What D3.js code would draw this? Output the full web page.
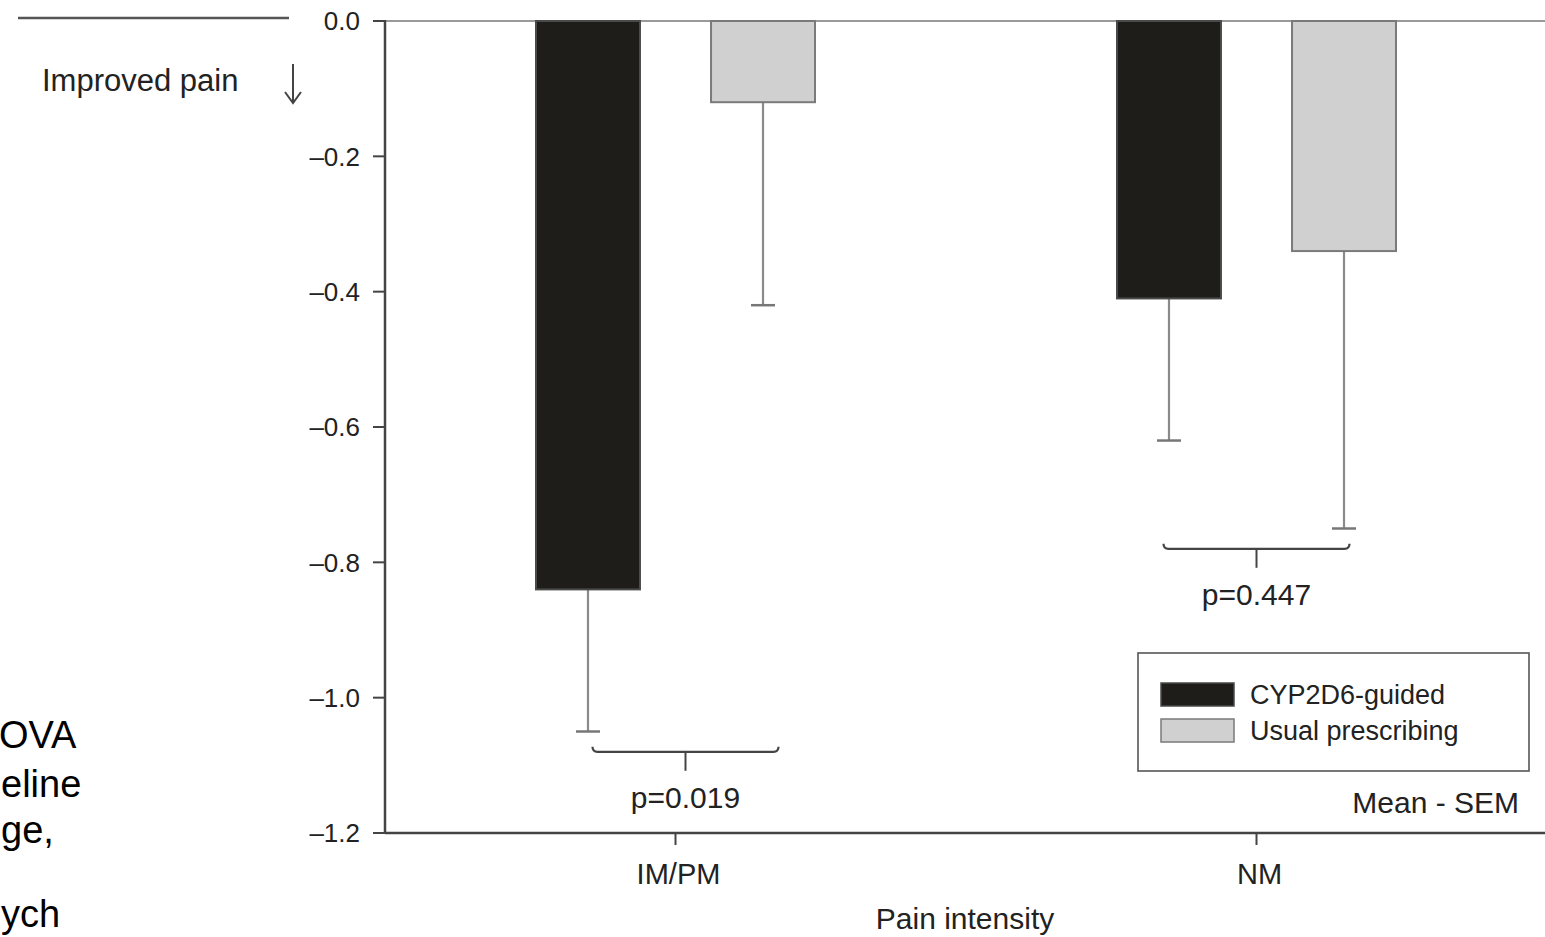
<!DOCTYPE html>
<html>
<head>
<meta charset="utf-8">
<script src="https://cdn.jsdelivr.net/npm/d3@7"></script>
<style>
  html, body { margin: 0; padding: 0; background: #fff; overflow: hidden; }
  svg { display: block; font-family: "Liberation Sans", Arial, Helvetica, sans-serif; }
</style>
</head>
<body>
<svg id="chart" width="1545" height="937"></svg>
<script>
// ---- data ----
const categories = ["IM/PM", "NM"];
const seriesNames = ["CYP2D6-guided", "Usual prescribing"];
const guidedMean = [-0.84, -0.41];
const guidedSem = [0.21, 0.21];
const usualMean = [-0.12, -0.34];
const usualSem = [0.30, 0.41];
const pLabels = ["p=0.019", "p=0.447"];
const yTicks = [0.0, -0.2, -0.4, -0.6, -0.8, -1.0, -1.2];
const sideText = ["OVA", "eline", "ge,", "", "ych"];

const svg = d3.select("#chart");
const fontTick = 26, fontText = 30, fontLegend = 27;

const plotL = 385, plotR = 1547, plotT = 21, plotB = 833;
const x = d3.scaleBand().domain(categories).range([plotL, plotR]).paddingInner(0).paddingOuter(0);
const y = d3.scaleLinear().domain([0, -1.2]).range([plotT, plotB]);
const sub = d3.scaleBand().domain(seriesNames).range([-139.5, 139.5]).paddingInner(0.406).paddingOuter(0);

const fills = ["#1e1d1a", "#d0d0d0"];
const strokes = ["#4a4a4a", "#7a7a7a"];

// top frame line
svg.append("line").attr("x1", plotL).attr("x2", 1545).attr("y1", y(0)).attr("y2", y(0))
  .attr("stroke", "#9a9a9a").attr("stroke-width", 2);

// bars
const rows = [];
categories.forEach((c, i) => {
  rows.push({ cat: c, s: seriesNames[0], mean: guidedMean[i], sem: guidedSem[i], k: 0 });
  rows.push({ cat: c, s: seriesNames[1], mean: usualMean[i], sem: usualSem[i], k: 1 });
});
const cx = d => x(d.cat) + x.bandwidth() / 2 + sub(d.s) + sub.bandwidth() / 2;

// error bars (Mean - SEM)
rows.forEach(d => {
  const ex = cx(d);
  svg.append("line").attr("x1", ex).attr("x2", ex).attr("y1", y(d.mean)).attr("y2", y(d.mean - d.sem))
    .attr("stroke", "#8a8a8a").attr("stroke-width", 2.2);
  svg.append("line").attr("x1", ex - 12).attr("x2", ex + 12).attr("y1", y(d.mean - d.sem)).attr("y2", y(d.mean - d.sem))
    .attr("stroke", "#777").attr("stroke-width", 2.5);
});

svg.selectAll("rect.bar").data(rows).join("rect").attr("class", "bar")
  .attr("x", d => x(d.cat) + x.bandwidth() / 2 + sub(d.s))
  .attr("width", sub.bandwidth())
  .attr("y", y(0))
  .attr("height", d => y(d.mean) - y(0))
  .attr("fill", d => fills[d.k])
  .attr("stroke", d => strokes[d.k])
  .attr("stroke-width", 2);

// brackets and p labels
categories.forEach((c, i) => {
  const lows = [guidedMean[i] - guidedSem[i], usualMean[i] - usualSem[i]];
  const level = d3.min(lows) - 0.03;
  const mid = x(c) + x.bandwidth() / 2 + (i === 0 ? 10 : 0);
  const x0 = mid - 93, x1 = mid + 93, yy = y(level);
  svg.append("path")
    .attr("d", `M${x0},${yy - 5} Q${x0},${yy} ${x0 + 5},${yy} L${x1 - 5},${yy} Q${x1},${yy} ${x1},${yy - 5}`)
    .attr("fill", "none").attr("stroke", "#444").attr("stroke-width", 2.2);
  svg.append("line").attr("x1", mid).attr("x2", mid).attr("y1", yy).attr("y2", yy + 19)
    .attr("stroke", "#444").attr("stroke-width", 2);
  svg.append("text").attr("x", mid).attr("y", yy + 56).attr("text-anchor", "middle")
    .attr("font-size", fontText).attr("fill", "#222").text(pLabels[i]);
});

// y axis
const yAxis = svg.append("g");
yAxis.append("line").attr("x1", plotL).attr("x2", plotL).attr("y1", y(0) - 1).attr("y2", y(-1.2) + 1)
  .attr("stroke", "#444").attr("stroke-width", 2.5);
yAxis.selectAll("line.tk").data(yTicks).join("line").attr("class", "tk")
  .attr("x1", plotL - 12).attr("x2", plotL).attr("y1", d => y(d)).attr("y2", d => y(d))
  .attr("stroke", "#444").attr("stroke-width", 2);
yAxis.selectAll("text").data(yTicks).join("text")
  .attr("x", plotL - 25).attr("y", d => y(d)).attr("dy", "0.36em")
  .attr("text-anchor", "end").attr("font-size", fontTick).attr("fill", "#222")
  .text(d => d3.format(".1f")(d).replace("\u2212", "\u2013"));

// x axis
svg.append("line").attr("x1", plotL).attr("x2", 1545).attr("y1", y(-1.2)).attr("y2", y(-1.2))
  .attr("stroke", "#444").attr("stroke-width", 2.5);
categories.forEach(c => {
  const m = x(c) + x.bandwidth() / 2;
  svg.append("line").attr("x1", m).attr("x2", m).attr("y1", y(-1.2)).attr("y2", y(-1.2) + 12)
    .attr("stroke", "#444").attr("stroke-width", 2);
  svg.append("text").attr("x", m + 3).attr("y", 884).attr("text-anchor", "middle")
    .attr("font-size", fontText - 1).attr("fill", "#222").text(c);
});
svg.append("text").attr("x", 965).attr("y", 929).attr("text-anchor", "middle")
  .attr("font-size", fontText).attr("fill", "#222").text("Pain intensity");

// legend
const lg = svg.append("g");
lg.append("rect").attr("x", 1138).attr("y", 653).attr("width", 391).attr("height", 118)
  .attr("fill", "#fff").attr("stroke", "#555").attr("stroke-width", 1.6);
seriesNames.forEach((s, i) => {
  const yy = 683 + i * 36;
  lg.append("rect").attr("x", 1161).attr("y", yy).attr("width", 73).attr("height", 23)
    .attr("fill", fills[i]).attr("stroke", strokes[i]).attr("stroke-width", 1.5);
  lg.append("text").attr("x", 1250).attr("y", yy + 21).attr("font-size", fontLegend).attr("fill", "#222").text(s);
});
svg.append("text").attr("x", 1519).attr("y", 813).attr("text-anchor", "end")
  .attr("font-size", fontText).attr("fill", "#222").text("Mean - SEM");

// top-left annotation
svg.append("line").attr("x1", 18).attr("x2", 289).attr("y1", 18).attr("y2", 18)
  .attr("stroke", "#555").attr("stroke-width", 2.5);
svg.append("text").attr("x", 42).attr("y", 91).attr("font-size", 31).attr("fill", "#222").text("Improved pain");
svg.append("line").attr("x1", 293).attr("x2", 293).attr("y1", 64).attr("y2", 102)
  .attr("stroke", "#444").attr("stroke-width", 2);
svg.append("path").attr("d", "M285,92 L293,103 L301,92").attr("fill", "none")
  .attr("stroke", "#444").attr("stroke-width", 2);

// visible fragments of the neighbouring column's text
const sideBase = [748, 797, 843, 0, 927];
sideText.forEach((t, i) => {
  if (!t) return;
  svg.append("text").attr("x", i === 0 ? -1 : 1).attr("y", sideBase[i]).attr("text-anchor", "start")
    .attr("font-size", 38).attr("fill", "#000").text(t);
});
</script>
</body>
</html>
